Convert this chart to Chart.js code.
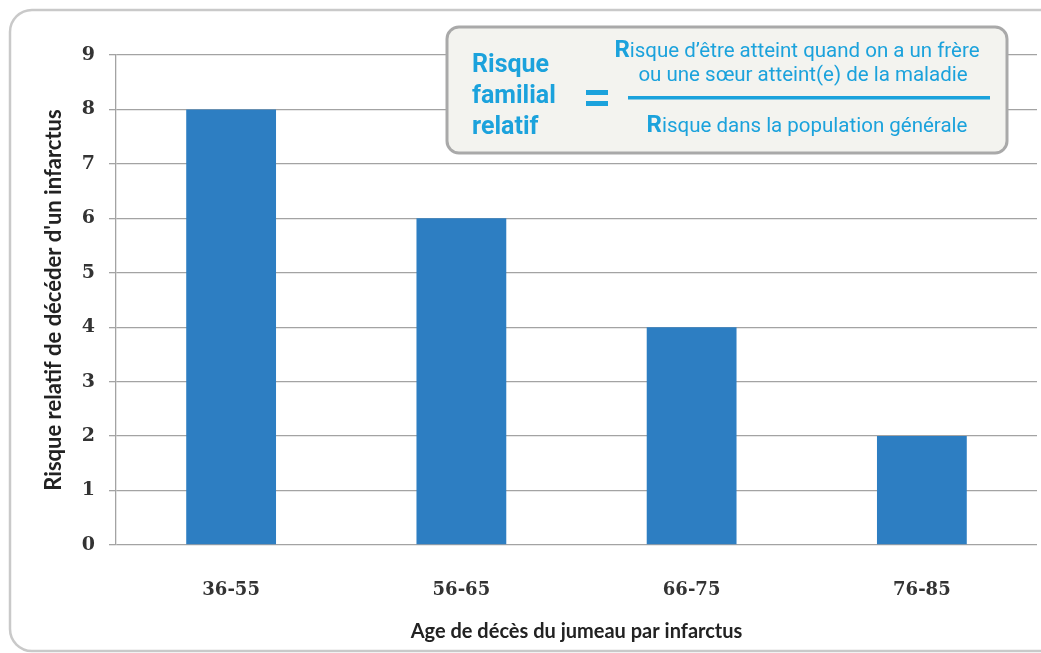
<!DOCTYPE html>
<html>
<head>
<meta charset="utf-8">
<script src="https://cdn.jsdelivr.net/npm/chart.js@4/dist/chart.umd.min.js"></script>
<style>
  html, body { margin: 0; padding: 0; background: #fff; }
  #wrap { width: 1041px; height: 653px; position: relative; }
</style>
</head>
<body>
<div id="wrap"><canvas id="chart"></canvas></div>
<script>
// Risque familial relatif selon l'âge de décès du jumeau
const categories = ["36-55", "56-65", "66-75", "76-85"];
const values = [8, 6, 4, 2];
const yMax = 9;

const xTitle = "Age de décès du jumeau par infarctus";
const yTitle = "Risque relatif de décéder d'un infarctus";
const leftLines = ["Risque", "familial", "relatif"];
const numerator = ["Risque d’être atteint quand on a un frère", "ou une sœur atteint(e) de la maladie"];
const denominator = "Risque dans la population générale";

const cyan = "#1ba2dc";

// cadre arrondi autour du graphique
const framePlugin = {
  id: "frame",
  beforeDraw(chart) {
    const ctx = chart.ctx;
    ctx.save();
    ctx.fillStyle = "#fff";
    ctx.fillRect(0, 0, chart.width, chart.height);
    ctx.strokeStyle = "#c9c9c9";
    ctx.lineWidth = 2.5;
    ctx.beginPath();
    ctx.roundRect(10, 10, 1080, 641, 22);
    ctx.stroke();
    ctx.restore();
  }
};

// ligne avec la première lettre en gras et plus grande
function drawRLine(ctx, text, cx, y) {
  const big = "bold 24px Roboto";
  const small = "20.5px Roboto";
  ctx.font = big;
  const w1 = ctx.measureText(text[0]).width;
  ctx.font = small;
  const w2 = ctx.measureText(text.slice(1)).width;
  let x = cx - (w1 + w2) / 2;
  ctx.font = big;
  ctx.fillText(text[0], x, y);
  ctx.font = small;
  ctx.fillText(text.slice(1), x + w1, y);
}

// encadré de la formule
const formulaPlugin = {
  id: "formula",
  afterDraw(chart) {
    const ctx = chart.ctx;
    ctx.save();
    ctx.beginPath();
    ctx.roundRect(447, 27, 560, 126, 12);
    ctx.fillStyle = "#f3f3ef";
    ctx.fill();
    ctx.strokeStyle = "#a9a9a9";
    ctx.lineWidth = 3;
    ctx.stroke();

    ctx.fillStyle = cyan;
    ctx.textBaseline = "middle";
    ctx.textAlign = "left";
    ctx.font = "bold 25px Roboto";
    leftLines.forEach((t, i) => ctx.fillText(t, 472, 66 + i * 31));

    // signe égal
    ctx.fillRect(586, 90, 22, 5);
    ctx.fillRect(586, 101, 22, 5);

    // barre de fraction
    ctx.fillRect(628, 96, 362, 3.5);

    ctx.textBaseline = "alphabetic";
    drawRLine(ctx, numerator[0], 797, 57);
    ctx.font = "20.5px Roboto";
    ctx.textAlign = "center";
    ctx.fillText(numerator[1], 803, 81);
    ctx.textAlign = "left";
    drawRLine(ctx, denominator, 807, 132);
    ctx.restore();
  }
};

new Chart(document.getElementById("chart"), {
  type: "bar",
  data: {
    labels: categories,
    datasets: [{
      data: values,
      backgroundColor: "#2d7ec2",
      borderWidth: 0,
      categoryPercentage: 1,
      barPercentage: 0.39
    }]
  },
  options: {
    responsive: true,
    maintainAspectRatio: false,
    animation: false,
    devicePixelRatio: 1,
    layout: { padding: { top: 55, right: 4, left: 0, bottom: 0 } },
    plugins: { legend: { display: false }, tooltip: { enabled: false } },
    scales: {
      x: {
        grid: { display: false },
        border: { display: false },
        ticks: { color: "#333", font: { family: "DejaVu Serif", size: 18, weight: "bold" }, padding: 27 },
        title: {
          display: true, text: xTitle, color: "#222",
          font: { family: "Lato", size: 20, weight: "bold" },
          padding: { top: 0, bottom: 9 }
        },
        afterFit: (s) => { s.height = 108; }
      },
      y: {
        min: 0, max: yMax,
        ticks: { stepSize: 1, color: "#333", font: { family: "DejaVu Serif", size: 19, weight: "bold" }, padding: 14 },
        grid: { color: "#a3a3a3", lineWidth: 1.3, tickLength: 7 },
        border: { color: "#a3a3a3", width: 1.3 },
        title: {
          display: true, text: yTitle, color: "#222",
          font: { family: "Lato", size: 22, weight: "bold" },
          padding: { top: 41, bottom: 0 }
        },
        afterFit: (s) => { s.width = 116; }
      }
    }
  },
  plugins: [framePlugin, formulaPlugin]
});
</script>
</body>
</html>
